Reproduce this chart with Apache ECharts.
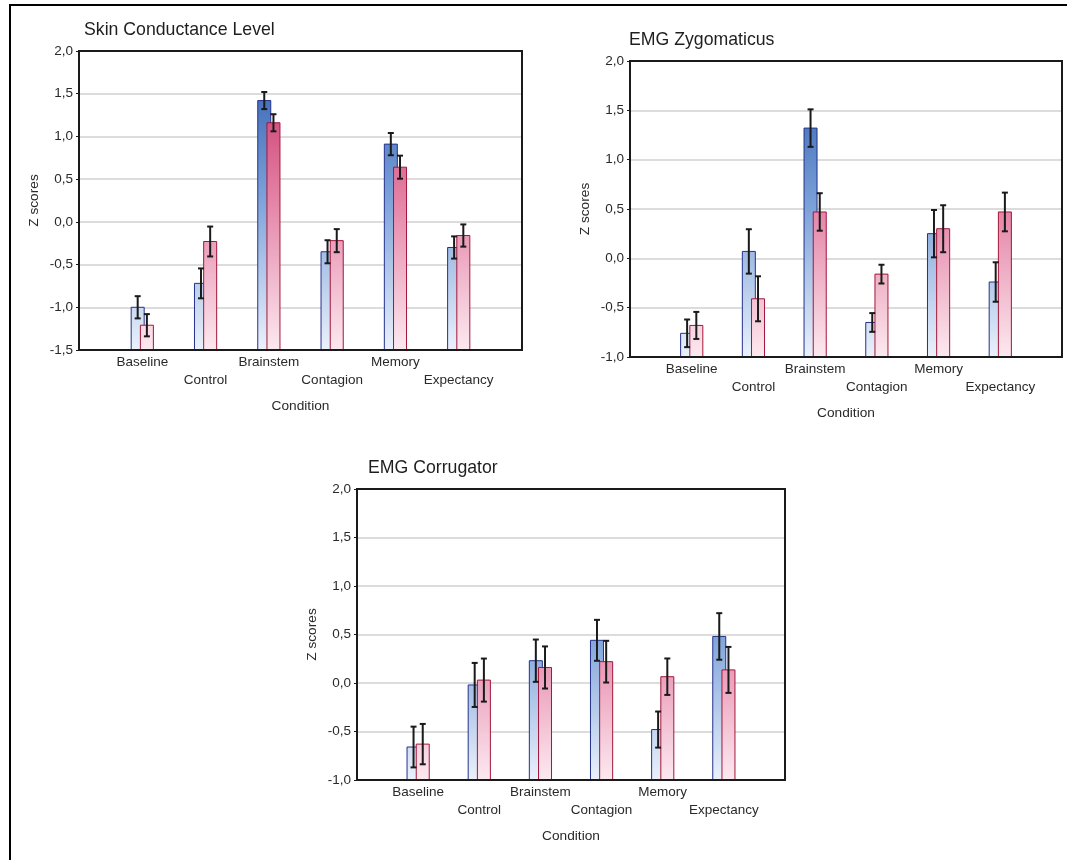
<!DOCTYPE html>
<html><head><meta charset="utf-8">
<script src="https://cdn.jsdelivr.net/npm/echarts@6/dist/echarts.min.js"></script>
<style>html,body{margin:0;padding:0;background:#fff}#c{width:1067px;height:860px}</style>
</head><body><div id="c"></div>
<script>
// ---- data ----
const categories = ['Baseline', 'Control', 'Brainstem', 'Contagion', 'Memory', 'Expectancy'];

const sclTitle = 'Skin Conductance Level';
const sclBlue    = [-1.00, -0.72, 1.42, -0.35, 0.91, -0.30];
const sclBlueErr = [0.13, 0.175, 0.10, 0.135, 0.13, 0.13];
const sclPink    = [-1.21, -0.23, 1.16, -0.22, 0.64, -0.16];
const sclPinkErr = [0.13, 0.175, 0.10, 0.135, 0.135, 0.13];

const zygTitle = 'EMG Zygomaticus';
const zygBlue    = [-0.76, 0.07, 1.32, -0.65, 0.25, -0.24];
const zygBlueErr = [0.14, 0.225, 0.19, 0.095, 0.24, 0.20];
const zygPink    = [-0.68, -0.41, 0.47, -0.16, 0.30, 0.47];
const zygPinkErr = [0.137, 0.228, 0.19, 0.095, 0.238, 0.196];

const corTitle = 'EMG Corrugator';
const corBlue    = [-0.66, -0.02, 0.23, 0.44, -0.48, 0.48];
const corBlueErr = [0.21, 0.227, 0.218, 0.211, 0.186, 0.24];
const corPink    = [-0.63, 0.03, 0.16, 0.22, 0.065, 0.135];
const corPinkErr = [0.208, 0.222, 0.217, 0.215, 0.188, 0.237];

const sclRange = [-1.5, 2.0];
const emgRange = [-1.0, 2.0];
const yInterval = 0.5;
const xAxisName = 'Condition';
const yAxisName = 'Z scores';

// ---- styling ----
const FONT = "'Liberation Sans', Arial, sans-serif";
const TXT = '#2a2a2a';
const BAR_W = 13;
const BAR_OFF = 4.6;
const BLUE_STOPS = [{offset: 0, color: '#2a5aae'}, {offset: 0.5, color: '#7ea3d9'}, {offset: 1, color: '#eaf1fb'}];
const PINK_STOPS = [{offset: 0, color: '#c32860'}, {offset: 0.5, color: '#e483a6'}, {offset: 1, color: '#fce9f0'}];
const BLUE_STROKE = '#24318c';
const PINK_STROKE = '#a3163a';

const panels = [
  {title: sclTitle, blue: sclBlue, blueErr: sclBlueErr, pink: sclPink, pinkErr: sclPinkErr, range: sclRange,
   grid: {left: 79, top: 51, width: 443, height: 299}, titlePos: {left: 84, top: 21}, lh: 18.5},
  {title: zygTitle, blue: zygBlue, blueErr: zygBlueErr, pink: zygPink, pinkErr: zygPinkErr, range: emgRange,
   grid: {left: 630, top: 61, width: 432, height: 296}, titlePos: {left: 629, top: 31}, lh: 18.5},
  {title: corTitle, blue: corBlue, blueErr: corBlueErr, pink: corPink, pinkErr: corPinkErr, range: emgRange,
   grid: {left: 357, top: 489, width: 428, height: 291}, titlePos: {left: 368, top: 459}, lh: 18}
];

const axisCats = [''].concat(categories, ['']);

function barRenderer(offset, stops, stroke, yMin, yMax) {
  return function (params, api) {
    const x = api.value(0);
    const p = api.coord([x, api.value(1)]);
    const base = api.coord([x, yMin]);
    const topPx = api.coord([x, yMax])[1];
    const grad = new echarts.graphic.LinearGradient(0, topPx, 0, base[1], stops, true);
    return {
      type: 'rect',
      shape: {x: p[0] + offset - BAR_W / 2, y: p[1], width: BAR_W, height: base[1] - p[1]},
      style: {fill: grad, stroke: stroke, lineWidth: 1}
    };
  };
}
function errRenderer(offset) {
  return function (params, api) {
    const x = api.value(0), v = api.value(1), e = api.value(2);
    const hi = api.coord([x, v + e]);
    const lo = api.coord([x, v - e]);
    const cx = hi[0] + offset;
    const cap = 3;
    const st = {stroke: '#1a1a1a', lineWidth: 2};
    return {
      type: 'group',
      children: [
        {type: 'line', shape: {x1: cx, y1: hi[1], x2: cx, y2: lo[1]}, style: st},
        {type: 'line', shape: {x1: cx - cap, y1: hi[1], x2: cx + cap, y2: hi[1]}, style: st},
        {type: 'line', shape: {x1: cx - cap, y1: lo[1], x2: cx + cap, y2: lo[1]}, style: st}
      ]
    };
  };
}

const option = {
  animation: false,
  backgroundColor: '#fff',
  textStyle: {fontFamily: FONT},
  title: [], grid: [], xAxis: [], yAxis: [], series: [],
  graphic: [
    {type: 'line', shape: {x1: 9, y1: 5, x2: 1067, y2: 5}, style: {stroke: '#000', lineWidth: 2}},
    {type: 'line', shape: {x1: 10, y1: 4, x2: 10, y2: 860}, style: {stroke: '#000', lineWidth: 2}}
  ]
};

panels.forEach(function (pn, k) {
  option.title.push({
    text: pn.title, left: pn.titlePos.left, top: pn.titlePos.top, padding: 0,
    textStyle: {fontFamily: FONT, fontSize: 17.7, fontWeight: 'normal', color: '#1e1e1e'}
  });
  option.grid.push(Object.assign({show: true, borderColor: '#1a1a1a', borderWidth: 2, backgroundColor: 'transparent', z: 6}, pn.grid));
  option.xAxis.push({
    gridIndex: k, type: 'category', data: axisCats, boundaryGap: false, z: 5,
    axisLine: {show: true, onZero: false, lineStyle: {color: '#1a1a1a', width: 2}},
    axisTick: {show: false},
    axisLabel: {
      interval: 0, margin: 3, fontSize: 13.5, color: TXT, fontFamily: FONT, lineHeight: pn.lh,
      formatter: function (v, i) { return v === '' ? '' : (i % 2 === 1 ? v : '\n' + v); }
    },
    name: xAxisName, nameLocation: 'middle', nameGap: 49,
    nameTextStyle: {fontSize: 13.7, color: TXT, fontFamily: FONT}
  });
  option.yAxis.push({
    gridIndex: k, type: 'value', min: pn.range[0], max: pn.range[1], interval: yInterval,
    axisLine: {show: true, onZero: false, lineStyle: {color: '#1a1a1a', width: 2}},
    axisTick: {show: true, length: 3, lineStyle: {color: '#1a1a1a', width: 1}},
    axisLabel: {fontSize: 13.5, color: TXT, margin: 6, fontFamily: FONT,
      formatter: function (v) { return v.toFixed(1).replace('.', ','); }},
    splitLine: {show: true, showMinLine: false, showMaxLine: false, lineStyle: {color: '#dcdcdc', width: 2}},
    name: yAxisName, nameLocation: 'middle', nameGap: 38,
    nameTextStyle: {fontSize: 13.7, color: TXT, fontFamily: FONT}
  });
  const blueData = categories.map(function (c, i) { return [c, pn.blue[i], pn.blueErr[i]]; });
  const pinkData = categories.map(function (c, i) { return [c, pn.pink[i], pn.pinkErr[i]]; });
  const common = {type: 'custom', xAxisIndex: k, yAxisIndex: k, encode: {x: 0, y: 1}, clip: false};
  option.series.push(Object.assign({}, common, {z: 2, data: blueData,
    renderItem: barRenderer(-BAR_OFF, BLUE_STOPS, BLUE_STROKE, pn.range[0], pn.range[1])}));
  option.series.push(Object.assign({}, common, {z: 3, data: pinkData,
    renderItem: barRenderer(BAR_OFF, PINK_STOPS, PINK_STROKE, pn.range[0], pn.range[1])}));
  option.series.push(Object.assign({}, common, {z: 4, data: blueData, renderItem: errRenderer(-BAR_OFF)}));
  option.series.push(Object.assign({}, common, {z: 4, data: pinkData, renderItem: errRenderer(BAR_OFF)}));
});

const chart = echarts.init(document.getElementById('c'), null, {renderer: 'canvas'});
chart.setOption(option);
</script>
</body></html>
